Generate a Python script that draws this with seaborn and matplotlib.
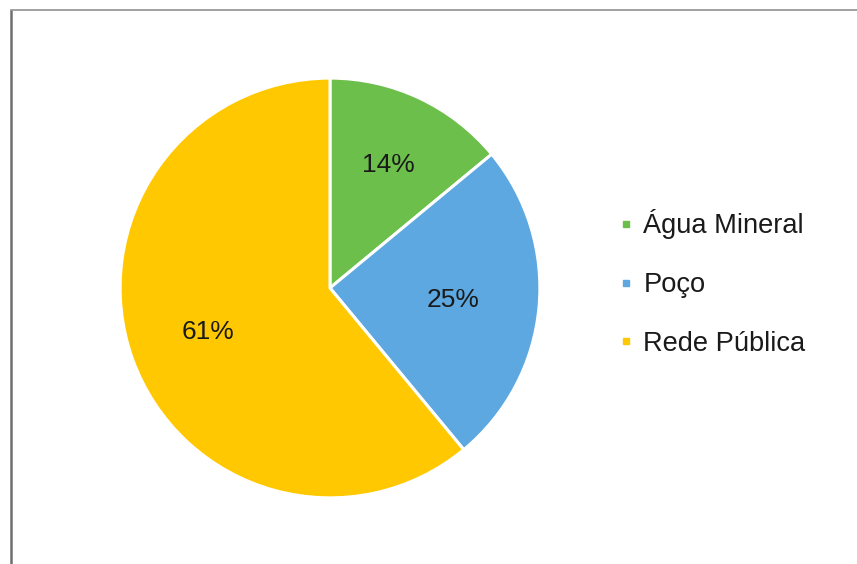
import matplotlib
matplotlib.use('Agg')
import numpy as np
import matplotlib.pyplot as plt
from matplotlib.lines import Line2D
import seaborn as sns

# dados
categorias = ['Água Mineral', 'Poço', 'Rede Pública']
valores = [14, 25, 61]
cores = ['#6CBF4B', '#5DA8E0', '#FFC800']
dist_rotulos = [0.65, 0.59, 0.62]

sns.set_style('white')
plt.rcParams['font.family'] = ['Liberation Sans', 'DejaVu Sans']

fig = plt.figure(figsize=(8.57, 5.64), dpi=100)
ax = fig.add_axes([0.1377, 0.1135, 0.4947, 0.7518])

wedges, textos, pcts = ax.pie(valores, colors=cores, startangle=90, counterclock=False,
                              autopct='%1.0f%%', pctdistance=0.65,
                              wedgeprops=dict(edgecolor='white', linewidth=2.2),
                              textprops=dict(fontsize=19, color='#1a1a1a'))
# ajusta a distância de cada rótulo
for w, t, d in zip(wedges, pcts, dist_rotulos):
    ang = np.deg2rad((w.theta1 + w.theta2) / 2)
    t.set_position((d * np.cos(ang), d * np.sin(ang)))

ax.set_xlim(-1.01, 1.01)
ax.set_ylim(-1.01, 1.01)
ax.set_aspect('equal')

# legenda com marcadores quadrados
handles = [Line2D([], [], marker='s', linestyle='', markersize=5,
                  markerfacecolor=c, markeredgecolor=c) for c in cores]
fig.legend(handles, categorias, loc='center left',
           bbox_to_anchor=(0.695, 0.498), frameon=False,
           fontsize=19.6, labelspacing=1.2, handlelength=0.4,
           handletextpad=0.45, labelcolor='#1a1a1a')

# moldura (esquerda e topo)
fig.add_artist(Line2D([11 / 857, 11 / 857], [0, 1 - 10 / 564],
                      color='#6e6e6e', linewidth=1.8, transform=fig.transFigure))
fig.add_artist(Line2D([11 / 857, 1], [1 - 10 / 564, 1 - 10 / 564],
                      color='#9a9a9a', linewidth=1.3, transform=fig.transFigure))

fig.savefig('out.png', dpi=100)
